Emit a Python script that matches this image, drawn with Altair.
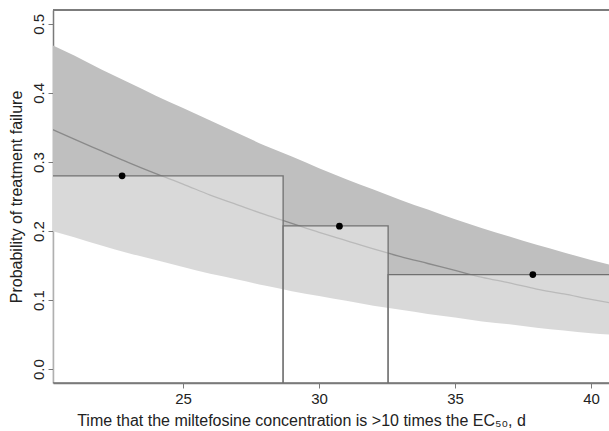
import altair as alt
import pandas as pd

# Fitted curve and 95% band
curve_x = [20.2, 21, 22, 23, 24, 25, 26, 27, 28, 29, 30, 31, 32, 33, 34, 35,
           36, 37, 38, 39, 40, 40.7]
curve_fit = [0.347, 0.333, 0.316, 0.299, 0.283, 0.268, 0.252, 0.238, 0.224,
             0.211, 0.198, 0.186, 0.174, 0.163, 0.153, 0.143, 0.133, 0.125,
             0.116, 0.109, 0.101, 0.096]
curve_upper = [0.469, 0.454, 0.434, 0.415, 0.396, 0.378, 0.360, 0.342, 0.324,
               0.308, 0.291, 0.275, 0.260, 0.245, 0.231, 0.217, 0.204, 0.192,
               0.180, 0.169, 0.158, 0.151]
curve_lower = [0.200, 0.191, 0.179, 0.168, 0.158, 0.148, 0.138, 0.130, 0.121,
               0.113, 0.106, 0.099, 0.092, 0.086, 0.080, 0.075, 0.069, 0.065,
               0.060, 0.056, 0.052, 0.050]

# Grouped observed failure proportions (bars) and group mean times (points)
bin_start = [20.0, 28.68, 32.54]
bin_end = [28.68, 32.54, 41.0]
bin_prob = [0.280, 0.2075, 0.137]

obs_time = [22.76, 30.75, 37.86]
obs_prob = [0.280, 0.207, 0.137]

x_ticks = [25, 30, 35, 40]
y_ticks = [0.0, 0.1, 0.2, 0.3, 0.4, 0.5]

curve_df = pd.DataFrame({"x": curve_x, "fit": curve_fit,
                         "lo": curve_lower, "hi": curve_upper})
bar_df = pd.DataFrame({"x": bin_start, "x1": bin_end, "p": bin_prob})
pt_df = pd.DataFrame({"x": obs_time, "p": obs_prob})

FONT = "Liberation Sans"
x_scale = alt.Scale(domain=[20.22, 40.66], nice=False, zero=False)
y_scale = alt.Scale(domain=[-0.02, 0.52], nice=False, zero=False)

X_TITLE = "Time that the miltefosine concentration is >10 times the EC₅₀, d"
Y_TITLE = "Probability of treatment failure"

x_axis = alt.Axis(
    values=x_ticks, format="d", grid=False, domain=True, domainColor="#7a7a7a",
    domainWidth=1.5, tickColor="#7a7a7a", tickSize=5, labelFontSize=15,
    labelFont=FONT, labelColor="#222222", labelPadding=3,
    titleFont=FONT, titleFontSize=16, titleFontWeight="normal",
    titleColor="#222222", titleX=248, titleY=42, titleAlign="center",
    titleBaseline="alphabetic",
)
y_axis = alt.Axis(
    values=y_ticks, format=".1f", grid=False, domain=True,
    domainColor="#7a7a7a", domainWidth=1.5, tickColor="#7a7a7a", tickSize=5,
    labelFontSize=15, labelFont=FONT, labelColor="#222222", labelAngle=-90,
    labelAlign="center", labelBaseline="alphabetic", labelPadding=5,
    titleFont=FONT, titleFontSize=16,
    titleFontWeight="normal", titleColor="#222222", titleAngle=-90,
    titleX=-31.5, titleY=186.5, titleAlign="center",
    titleBaseline="alphabetic",
)


def xenc(field):
    return alt.X(field, scale=x_scale, axis=x_axis, title=X_TITLE)


def yenc(field):
    return alt.Y(field, scale=y_scale, axis=y_axis, title=Y_TITLE)


band = alt.Chart(curve_df).mark_area(color="#bfbfbf", clip=True,
                                     interpolate="monotone").encode(
    x=xenc("x:Q"),
    y=yenc("lo:Q"),
    y2="hi:Q",
)

line = alt.Chart(curve_df).mark_line(color="#8a8a8a", strokeWidth=1.3,
                                     clip=True, interpolate="monotone").encode(
    x=xenc("x:Q"),
    y=yenc("fit:Q"),
)

bars = alt.Chart(bar_df).mark_rect(fill="white", fillOpacity=0.41,
                                   stroke="#707070", strokeWidth=1.3,
                                   clip=True).encode(
    x=xenc("x:Q"),
    x2="x1:Q",
    y=yenc("p:Q"),
    y2=alt.datum(-0.02),
)

points = alt.Chart(pt_df).mark_circle(color="black", opacity=1, size=45,
                                      clip=True).encode(
    x=xenc("x:Q"),
    y=yenc("p:Q"),
)

top_border = alt.Chart(pt_df).mark_rule(color="#7a7a7a", strokeWidth=1.5).encode(
    x=alt.value(0), x2=alt.value(556), y=alt.value(0)
)

chart = alt.layer(band, line, bars, points, top_border).properties(
    width=556, height=373,
    autosize=alt.AutoSizeParams(type="none"),
    padding={"left": 53, "top": 10, "right": 0, "bottom": 48},
    background="white",
).configure_view(stroke=None)

chart.save("out.html", embed_options={"renderer": "svg", "actions": False})
